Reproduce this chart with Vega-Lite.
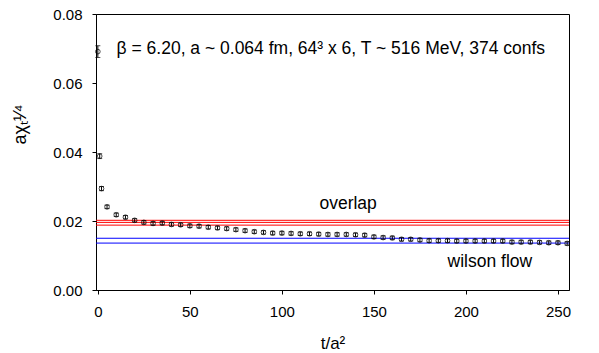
{
  "$schema": "https://vega.github.io/schema/vega-lite/v6.json",
  "autosize": "none",
  "width": 473,
  "height": 276,
  "padding": {"left": 96, "top": 14, "right": 30, "bottom": 63},
  "background": "white",
  "config": {
    "font": "Liberation Sans",
    "view": {"stroke": "black", "strokeWidth": 1},
    "axis": {
      "domainColor": "black", "tickColor": "black", "labelColor": "black", "titleColor": "black",
      "labelFont": "Liberation Sans", "titleFont": "Liberation Sans", "labelFontSize": 15, "titleFontSize": 17,
      "titleFontWeight": "normal", "grid": false, "tickSize": 4
    }
  },
  "datasets": {
    "pts": [
      {"t": 0, "v": 0.0691, "e": 0.0017},
      {"t": 1, "v": 0.0388, "e": 0.0007},
      {"t": 2, "v": 0.0294, "e": 0.0006},
      {"t": 5, "v": 0.0241, "e": 0.0005},
      {"t": 10, "v": 0.0218, "e": 0.0005},
      {"t": 15, "v": 0.0211, "e": 0.0005},
      {"t": 20, "v": 0.0202, "e": 0.0005},
      {"t": 25, "v": 0.0196, "e": 0.0005},
      {"t": 30, "v": 0.0193, "e": 0.0005},
      {"t": 35, "v": 0.0194, "e": 0.0005},
      {"t": 40, "v": 0.0190, "e": 0.0005},
      {"t": 45, "v": 0.0189, "e": 0.0005},
      {"t": 50, "v": 0.0186, "e": 0.0005},
      {"t": 55, "v": 0.0185, "e": 0.0005},
      {"t": 60, "v": 0.0182, "e": 0.0005},
      {"t": 65, "v": 0.0180, "e": 0.0005},
      {"t": 70, "v": 0.0178, "e": 0.0005},
      {"t": 75, "v": 0.0175, "e": 0.0005},
      {"t": 80, "v": 0.0172, "e": 0.0005},
      {"t": 85, "v": 0.0169, "e": 0.0005},
      {"t": 90, "v": 0.0167, "e": 0.0005},
      {"t": 95, "v": 0.0165, "e": 0.0005},
      {"t": 100, "v": 0.0165, "e": 0.0005},
      {"t": 105, "v": 0.0164, "e": 0.0005},
      {"t": 110, "v": 0.0163, "e": 0.0005},
      {"t": 115, "v": 0.0163, "e": 0.0005},
      {"t": 120, "v": 0.0162, "e": 0.0005},
      {"t": 125, "v": 0.0161, "e": 0.0005},
      {"t": 130, "v": 0.0161, "e": 0.0005},
      {"t": 135, "v": 0.0161, "e": 0.0005},
      {"t": 140, "v": 0.0160, "e": 0.0005},
      {"t": 145, "v": 0.0159, "e": 0.0005},
      {"t": 150, "v": 0.0154, "e": 0.0005},
      {"t": 155, "v": 0.0152, "e": 0.0005},
      {"t": 160, "v": 0.0151, "e": 0.0005},
      {"t": 165, "v": 0.0147, "e": 0.0005},
      {"t": 170, "v": 0.0147, "e": 0.0005},
      {"t": 175, "v": 0.0145, "e": 0.0005},
      {"t": 180, "v": 0.0143, "e": 0.0005},
      {"t": 185, "v": 0.0143, "e": 0.0005},
      {"t": 190, "v": 0.0143, "e": 0.0005},
      {"t": 195, "v": 0.0142, "e": 0.0005},
      {"t": 200, "v": 0.0142, "e": 0.0005},
      {"t": 205, "v": 0.0142, "e": 0.0005},
      {"t": 210, "v": 0.0142, "e": 0.0005},
      {"t": 215, "v": 0.0142, "e": 0.0005},
      {"t": 220, "v": 0.0142, "e": 0.0005},
      {"t": 225, "v": 0.0139, "e": 0.0005},
      {"t": 230, "v": 0.0139, "e": 0.0005},
      {"t": 235, "v": 0.0139, "e": 0.0005},
      {"t": 240, "v": 0.0138, "e": 0.0005},
      {"t": 245, "v": 0.0137, "e": 0.0005},
      {"t": 250, "v": 0.0137, "e": 0.0005},
      {"t": 255, "v": 0.0135, "e": 0.0005}
    ],
    "lines": [
      {"y": 0.0202, "g": "overlap"},
      {"y": 0.0196, "g": "overlap"},
      {"y": 0.0188, "g": "overlap"},
      {"y": 0.0150, "g": "wilson"},
      {"y": 0.0136, "g": "wilson"}
    ],
    "labels": [
      {"t": 126.6, "y": 0.0699, "s": "β = 6.20, a ~ 0.064 fm, 64³ x 6, T ~ 516 MeV, 374 confs"},
      {"t": 136, "y": 0.0249, "s": "overlap"},
      {"t": 213, "y": 0.0081, "s": "wilson flow"}
    ]
  },
  "layer": [
    {
      "data": {"name": "lines"},
      "mark": {"type": "rule", "strokeWidth": 1},
      "encoding": {
        "y": {"field": "y", "type": "quantitative", "scale": {"domain": [0, 0.08], "nice": false}},
        "color": {"field": "g", "type": "nominal", "scale": {"domain": ["overlap", "wilson"], "range": ["#ff0000", "#0000ff"]}, "legend": null}
      }
    },
    {
      "data": {"name": "pts"},
      "mark": {"type": "errorbar", "color": "black", "ticks": {"size": 5}, "thickness": 1},
      "encoding": {
        "x": {"field": "t", "type": "quantitative", "scale": {"domain": [-1, 256], "nice": false, "zero": false},
              "axis": {"values": [0, 50, 100, 150, 200, 250], "title": "t/a²", "labelPadding": 10, "titlePadding": 16}},
        "y": {"field": "v", "type": "quantitative", "scale": {"domain": [0, 0.08], "nice": false},
              "axis": {"values": [0, 0.02, 0.04, 0.06, 0.08], "format": ".2f", "title": "aχₜ¹⁄⁴", "titleFontSize": 18, "labelPadding": 10, "titleX": -71, "titleY": 110, "titleBaseline": "alphabetic", "titleAlign": "center", "titleAngle": -90}},
        "yError": {"field": "e"}
      }
    },
    {
      "data": {"name": "pts"},
      "mark": {"type": "point", "shape": "circle", "filled": false, "color": "black", "size": 22, "strokeWidth": 1},
      "encoding": {
        "x": {"field": "t", "type": "quantitative"},
        "y": {"field": "v", "type": "quantitative"}
      }
    },
    {
      "data": {"name": "labels"},
      "mark": {"type": "text", "fontSize": 17.5, "color": "black", "align": "center", "baseline": "middle", "font": "Liberation Sans"},
      "encoding": {
        "x": {"field": "t", "type": "quantitative"},
        "y": {"field": "y", "type": "quantitative"},
        "text": {"field": "s"}
      }
    }
  ]
}
